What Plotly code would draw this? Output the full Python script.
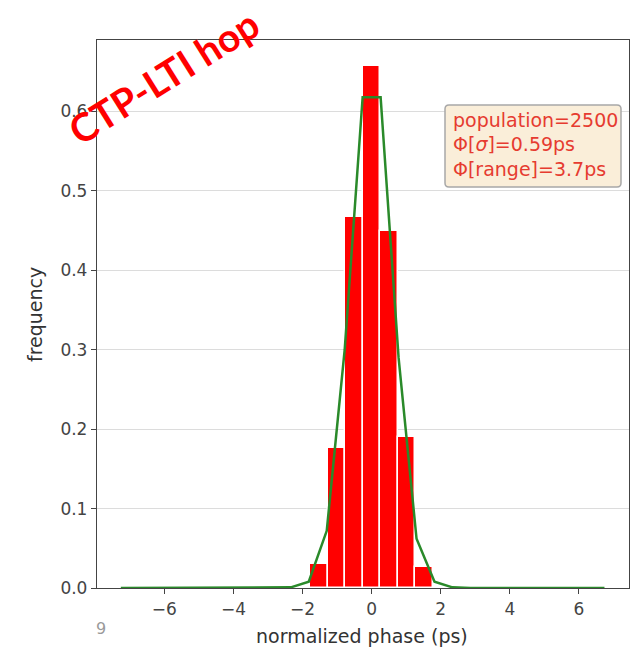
import plotly.graph_objects as go

# ---- data ----
bin_centers = [-1.52, -1.01, -0.51, 0.0, 0.50, 1.01, 1.51]
bin_freq = [0.030, 0.176, 0.467, 0.657, 0.450, 0.190, 0.026]
bin_width = 0.505

fit_x = [-7.26, -2.86, -2.34, -1.82, -1.30, -0.78, -0.26, 0.26, 0.78, 1.30, 1.82, 2.34, 2.86, 6.74]
fit_y = [0.0, 0.0, 0.0008, 0.008, 0.072, 0.300, 0.618, 0.618, 0.290, 0.062, 0.008, 0.0008, 0.0, 0.0]

x_ticks = [-6, -4, -2, 0, 2, 4, 6]
y_ticks = [0.0, 0.1, 0.2, 0.3, 0.4, 0.5, 0.6]

stats_lines = ["population=2500", "Φ[<i>σ</i>]=0.59ps", "Φ[range]=3.7ps"]
title_text = "CTP-LTI hop"
x_title = "normalized phase (ps)"
y_title = "frequency"

# ---- layout geometry (pixels) ----
W, H = 641, 649
L, R, T, B = 97, 629, 40, 588
PW, PH = R - L, B - T

def px(x):
    return (x - L) / PW

def py(y):
    return (B - y) / PH

fig = go.Figure()
fig.add_trace(go.Bar(
    x=bin_centers, y=bin_freq, width=bin_width,
    marker=dict(color="#ff0000", line=dict(color="white", width=1.5)),
    showlegend=False,
))
fig.add_trace(go.Scatter(
    x=fit_x, y=fit_y, mode="lines",
    line=dict(color="#2a8a2a", width=2.5),
    showlegend=False,
))

axis_common = dict(
    showline=True, linecolor="#444", linewidth=1.3, mirror=True,
    ticks="outside", ticklen=5, tickwidth=1.2, tickcolor="#444",
    tickfont=dict(family="DejaVu Sans", size=17, color="#444"),
    zeroline=False,
)
fig.update_xaxes(range=[-7.95, 7.45], tickvals=x_ticks, showgrid=False, **axis_common)
fig.update_yaxes(range=[0, 0.69], tickvals=y_ticks, tickformat=".1f",
                 showgrid=True, gridcolor="#dcdcdc", gridwidth=1, **axis_common)

# rounded stats box
bx0, by0, bx1, by1, r = 445, 105, 621, 187, 4
pts = [
    ("M", bx0 + r, by0), ("L", bx1 - r, by0), ("Q", bx1, by0, bx1, by0 + r),
    ("L", bx1, by1 - r), ("Q", bx1, by1, bx1 - r, by1), ("L", bx0 + r, by1),
    ("Q", bx0, by1, bx0, by1 - r), ("L", bx0, by0 + r), ("Q", bx0, by0, bx0 + r, by0),
]
path = ""
for p in pts:
    cmd = p[0]
    coords = p[1:]
    s = []
    for i in range(0, len(coords), 2):
        s.append(f"{px(coords[i]):.5f},{py(coords[i+1]):.5f}")
    path += cmd + " " + " ".join(s) + " "
path += "Z"
fig.add_shape(type="path", path=path, xref="paper", yref="paper",
              fillcolor="#faeed9", line=dict(color="#a8a8a8", width=1.5), layer="above")

for line, yc in zip(stats_lines, [120, 144, 169]):
    fig.add_annotation(text=line, xref="paper", yref="paper", x=px(451), y=py(yc),
                       xanchor="left", yanchor="middle", showarrow=False,
                       font=dict(family="DejaVu Sans", size=19, color="#e63b30"))

# axis titles
fig.add_annotation(text=x_title, xref="paper", yref="paper", x=px(362), y=py(636),
                   xanchor="center", yanchor="middle", showarrow=False,
                   font=dict(family="DejaVu Sans", size=19, color="#333"))
fig.add_annotation(text=y_title, xref="paper", yref="paper", x=px(35), y=py(315),
                   xanchor="center", yanchor="middle", showarrow=False, textangle=-90,
                   font=dict(family="DejaVu Sans", size=19, color="#333"))
fig.add_annotation(text="9", xref="paper", yref="paper", x=px(101), y=py(628),
                   xanchor="center", yanchor="middle", showarrow=False,
                   font=dict(family="DejaVu Sans", size=16, color="#9a9a9a"))

# rotated red title
fig.add_annotation(text=f"<b>{title_text}</b>", xref="paper", yref="paper",
                   x=px(163), y=py(77), xanchor="center", yanchor="middle",
                   showarrow=False, textangle=-32,
                   font=dict(family="Lato", size=39, color="#ff0000"))

fig.update_layout(
    width=W, height=H,
    margin=dict(l=L, r=W - R, t=T, b=H - B),
    paper_bgcolor="white", plot_bgcolor="white",
    bargap=0,
)
fig.write_html("out.html")
